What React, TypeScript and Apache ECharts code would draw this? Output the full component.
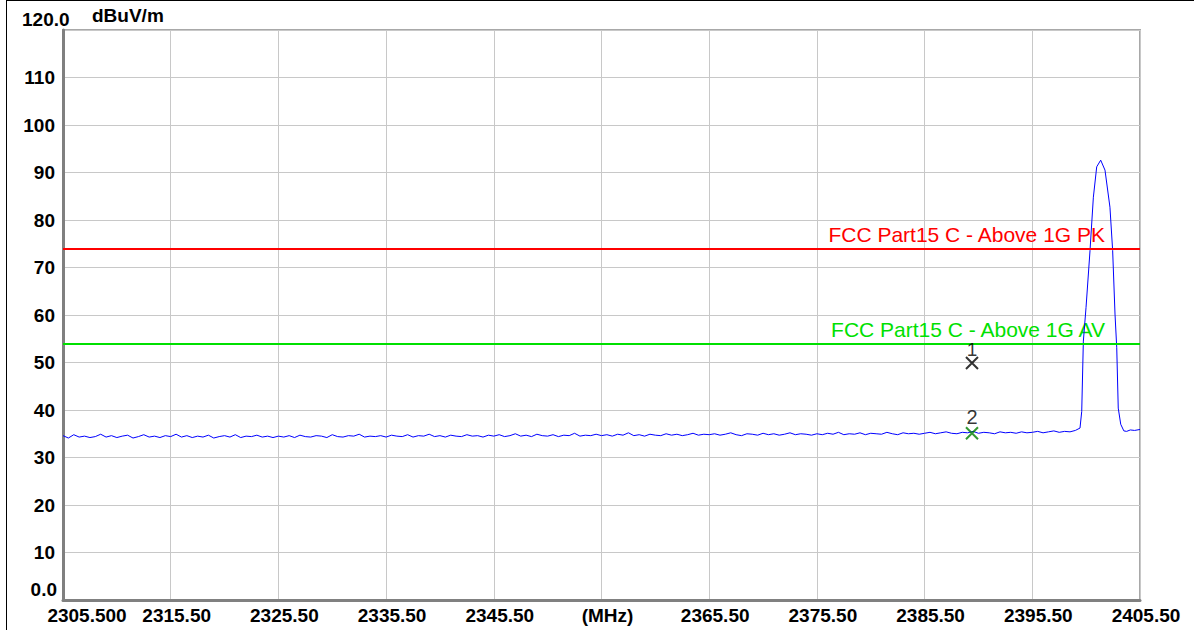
import React, { useEffect, useRef } from "react";
import * as echarts from "echarts";

// Sweep: 2305.5 .. 2405.5 MHz (x axis is MHz offset from start)
const START_MHZ = 2305.5;
const NOISE_STEP = 0.5;
const xTickLabels = ["2305.500", "2315.50", "2325.50", "2335.50", "2345.50", "(MHz)", "2365.50", "2375.50", "2385.50", "2395.50", "2405.50"];

const noiseLevels: number[] = [
  34.6,34.1,34.8,34.3,34.5,34.2,34.4,34.9,34.3,34.6,34.2,34.5,34.7,34.1,34.4,34.8,34.3,34.5,34.2,34.6,
  34.4,34.9,34.3,34.6,34.2,34.5,34.3,34.7,34.1,34.4,34.6,34.3,34.8,34.2,34.5,34.4,34.7,34.3,34.5,34.2,
  34.5,34.3,34.6,34.2,34.7,34.4,34.3,34.6,34.5,34.2,34.8,34.4,34.3,34.6,34.5,34.9,34.3,34.5,34.4,34.6,
  34.3,34.7,34.5,34.4,34.8,34.3,34.6,34.5,34.9,34.4,34.6,34.3,34.7,34.5,34.4,34.8,34.5,34.6,34.3,34.7,
  34.5,34.8,34.4,34.6,35.0,34.5,34.7,34.4,34.9,34.6,34.5,34.8,34.4,34.7,34.6,35.1,34.5,34.7,34.6,34.9,
  34.6,34.8,34.5,34.9,34.7,35.2,34.6,34.8,34.5,34.9,34.7,34.6,35.0,34.7,34.9,34.6,34.8,35.1,34.7,34.9,
  34.8,35.0,34.7,34.9,35.2,34.8,34.6,35.0,34.9,34.7,35.1,34.8,35.0,34.7,34.9,35.2,34.8,35.0,34.9,34.7,
  35.0,34.8,35.1,34.9,35.3,34.8,35.0,34.9,35.2,34.8,35.1,35.0,34.9,35.3,35.0,34.8,35.2,35.0,35.1,34.9,
  35.1,35.3,35.0,35.2,35.4,35.1,35.0,35.3,35.2,35.5,35.1,35.3,35.2,35.0,35.4,35.2,35.3,35.1,35.4,35.2,
  35.3,35.5,35.2,35.4,35.6,35.3,35.5,35.4,35.7,
];

const peakFreqs: number[] = [2399.93, 2400.09, 2400.24, 2400.49, 2400.86, 2401.17, 2401.48, 2401.85, 2402.25, 2402.71, 2402.96, 2403.18, 2403.34, 2403.48, 2403.71, 2404.0, 2404.26, 2404.6, 2405.0, 2405.5];
const peakLevels: number[] = [36.2, 39.7, 54.5, 61.6, 73.6, 84.8, 91.2, 92.6, 90.5, 82.7, 73.6, 60.2, 53.1, 40.4, 37.0, 35.6, 35.5, 35.8, 35.7, 35.9];

const limitPK = 74;
const limitAV = 54;
const limitPKName = "FCC Part15 C - Above 1G PK";
const limitAVName = "FCC Part15 C - Above 1G AV";

const markerFreq = 2389.9;
const marker1Level = 49.9;
const marker2Level = 35.1;

const FONT = "'Liberation Sans', Arial, sans-serif";
const XSYM = "path://M0 0L10 10M10 0L0 10";

export default function App() {
  const ref = useRef<HTMLDivElement>(null);
  useEffect(() => {
    document.body.style.margin = "0";
    if (!ref.current) return;
    const chart = echarts.init(ref.current, null, { renderer: "svg" });

    const trace: number[][] = [];
    noiseLevels.forEach((v, i) => trace.push([i * NOISE_STEP, v]));
    peakFreqs.forEach((f, i) => trace.push([f - START_MHZ, peakLevels[i]]));

    const xLabelStyle = { fontSize: 19, fontWeight: "bold" as const, fontFamily: FONT, color: "#000" };

    chart.setOption({
      animation: false,
      backgroundColor: "#fff",
      grid: { left: 63, top: 30, right: 54, bottom: 30, show: true, borderColor: "#a8a8a8", borderWidth: 2, backgroundColor: "transparent" },
      xAxis: {
        type: "value",
        min: 0,
        max: 100,
        interval: 10,
        axisLine: { show: true, lineStyle: { color: "#808080", width: 3 } },
        axisTick: { show: false },
        splitLine: { show: true, lineStyle: { color: "#c8c8c8", width: 1 } },
        axisLabel: {
          margin: 6,
          showMaxLabel: true,
          showMinLabel: true,
          formatter: (v: number) => {
            const i = Math.round(v / 10);
            return i === 0 ? `{f|${xTickLabels[i]}}` : `{n|${xTickLabels[i]}}`;
          },
          rich: {
            f: { ...xLabelStyle, padding: [0, 0, 0, 48] },
            n: { ...xLabelStyle, padding: [0, 0, 0, 12] },
          },
        },
      },
      yAxis: {
        type: "value",
        min: 0,
        max: 120,
        interval: 10,
        axisLine: { show: true, lineStyle: { color: "#808080", width: 3 } },
        axisTick: { show: false },
        splitLine: { show: true, lineStyle: { color: "#c8c8c8", width: 1 } },
        axisLabel: {
          margin: 8,
          fontSize: 19,
          fontWeight: "bold",
          fontFamily: FONT,
          color: "#000",
          formatter: (v: number) => (v === 0 || v === 120 ? "" : String(v)),
        },
      },
      series: [
        {
          type: "line",
          data: trace,
          symbol: "none",
          lineStyle: { color: "#0000ff", width: 1 },
          z: 3,
          markLine: {
            silent: true,
            symbol: "none",
            label: { show: false },
            data: [
              { yAxis: limitPK, lineStyle: { color: "#ff0000", width: 2, type: "solid" } },
              { yAxis: limitAV, lineStyle: { color: "#00e000", width: 2, type: "solid" } },
            ],
          },
        },
        {
          type: "scatter",
          data: [[markerFreq - START_MHZ, marker1Level]],
          symbol: XSYM,
          symbolSize: 12,
          itemStyle: { color: "transparent", borderColor: "#000", borderWidth: 2 },
          label: { show: true, position: "top", distance: -3, formatter: "1", fontSize: 19, fontFamily: FONT, color: "#000" },
          z: 5,
        },
        {
          type: "scatter",
          data: [[markerFreq - START_MHZ, marker2Level]],
          symbol: XSYM,
          symbolSize: 12,
          itemStyle: { color: "transparent", borderColor: "#008000", borderWidth: 2 },
          label: { show: true, position: "top", distance: -1, formatter: "2", fontSize: 20, fontFamily: FONT, color: "#000" },
          z: 5,
        },
      ],
    });

    const pk = chart.convertToPixel({ gridIndex: 0 }, [96.75, limitPK]) as number[];
    const av = chart.convertToPixel({ gridIndex: 0 }, [96.75, limitAV]) as number[];
    const y0 = chart.convertToPixel({ gridIndex: 0 }, [0, 0]) as number[];
    const y120 = chart.convertToPixel({ gridIndex: 0 }, [0, 120]) as number[];

    chart.setOption({
      graphic: [
        { type: "line", shape: { x1: 6.5, y1: 0, x2: 6.5, y2: 630 }, style: { stroke: "#000", lineWidth: 1 } },
        { type: "line", shape: { x1: 6, y1: 0.5, x2: 1194, y2: 0.5 }, style: { stroke: "#000", lineWidth: 1 } },
        { type: "text", x: pk[0], y: pk[1] - 4, style: { text: limitPKName, fill: "#ff0000", font: `21px ${FONT}`, textAlign: "right", textVerticalAlign: "bottom" } },
        { type: "text", x: av[0], y: av[1] - 4, style: { text: limitAVName, fill: "#00e000", font: `21px ${FONT}`, textAlign: "right", textVerticalAlign: "bottom" } },
        { type: "text", x: 22, y: y120[1] - 11, style: { text: "120.0", fill: "#000", font: `bold 19px ${FONT}`, textAlign: "left", textVerticalAlign: "middle" } },
        { type: "text", x: 92, y: y120[1] - 15, style: { text: "dBuV/m", fill: "#000", font: `bold 19px ${FONT}`, textAlign: "left", textVerticalAlign: "middle" } },
        { type: "text", x: 57, y: y0[1] - 11, style: { text: "0.0", fill: "#000", font: `bold 19px ${FONT}`, textAlign: "right", textVerticalAlign: "middle" } },
      ],
    });

    return () => chart.dispose();
  }, []);
  return <div ref={ref} style={{ width: 1194, height: 630 }} />;
}
